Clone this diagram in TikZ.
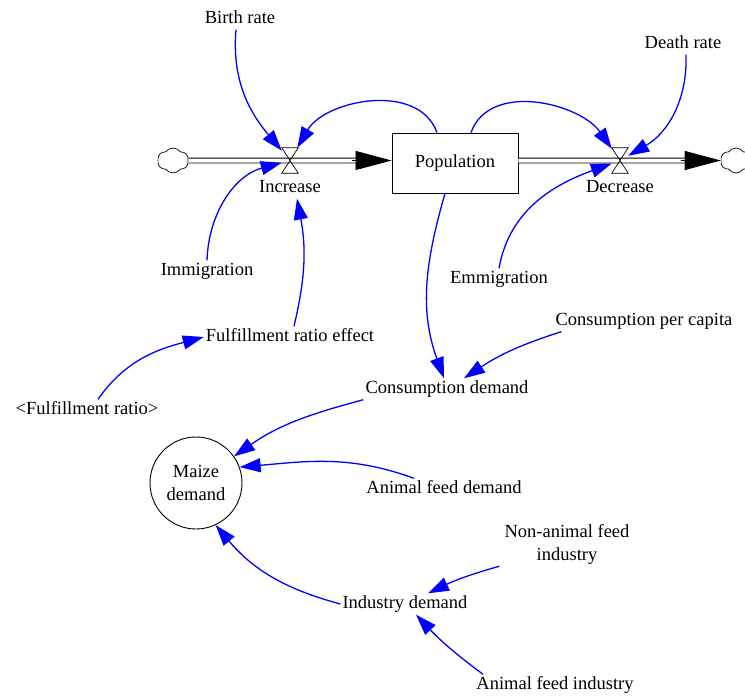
\documentclass[tikz,border=0pt]{standalone}
\usepackage{fontspec}
\setmainfont{Liberation Serif}
\usetikzlibrary{positioning,arrows.meta,shapes.symbols}

\begin{document}
\begin{tikzpicture}[
  x=1pt, y=1pt,
  font=\fontsize{18.5}{23}\selectfont,
  lbl/.style={inner sep=2pt, align=center, text height=13pt, text depth=4pt},
  stock/.style={draw, line width=0.9pt, minimum width=126pt, minimum height=60pt},
  aux/.style={draw, circle, line width=0.9pt, minimum size=92pt, align=center, inner sep=0pt},
  valve/.style={minimum width=16pt, minimum height=25pt, inner sep=0pt},
  cld/.style={draw, cloud, cloud puffs=6, cloud puff arc=110, aspect=1.25, minimum width=31pt, minimum height=25pt, inner sep=0pt, line width=0.7pt},
  pipe/.style={double, double distance=4pt, line width=0.9pt},
  flowtip/.style={line width=0.8pt, -{Triangle[length=36pt,width=19pt]}},
  link/.style={blue, line width=1.3pt, -{Triangle[length=21pt,width=14pt]}},
]
\useasboundingbox (0,0) rectangle (745,-696);

% stock and flows
\node[cld] (srcL) at (173,-160.5) {};
\node[valve] (inc) at (290,-160.5) {};
\node[stock] (pop) at (455,-163) {Population};
\node[valve] (dec) at (620,-160.5) {};
\node[cld] (sinkR) at (736,-160.5) {};
\node[lbl, below=4pt of inc] (incl) {Increase};
\node[lbl, below=4pt of dec] (decl) {Decrease};
\coordinate (popin) at (pop.west |- inc);
\coordinate (popout) at (pop.east |- dec);

\draw[pipe] (srcL.east) -- ([xshift=-30pt]popin);
\draw[flowtip] ([xshift=-40pt]popin) -- (popin);
\draw[pipe] (popout) -- ([xshift=-30pt]sinkR.west);
\draw[flowtip] ([xshift=-40pt]sinkR.west) -- (sinkR.west);
\draw[line width=0.7pt] (inc.north west) -- (inc.north east) -- (inc.south west) -- (inc.south east) -- cycle;
\draw[line width=0.7pt] (dec.north west) -- (dec.north east) -- (dec.south west) -- (dec.south east) -- cycle;

% variables
\node[lbl] (birth) at (240,-19) {Birth rate};
\node[lbl] (death) at (683,-44) {Death rate};
\node[lbl] (immig) at (207,-271) {Immigration};
\node[lbl] (emmig) at (499,-279) {Emmigration};
\node[lbl] (fre) at (290,-337) {Fulfillment ratio effect};
\node[lbl] (fr) at (87,-410) {<Fulfillment ratio>};
\node[lbl] (cpc) at (644,-321) {Consumption per capita};
\node[lbl] (cd) at (447,-389) {Consumption demand};
\node[aux] (maize) at (196,-483) {Maize\\demand};
\node[lbl] (afd) at (444,-489) {Animal feed demand};
\node[lbl, text height=, text depth=] (nafi) at (567,-544) {Non-animal feed\\industry};
\node[lbl] (ind) at (405,-604) {Industry demand};
\node[lbl] (afi) at (555,-685) {Animal feed industry};

% links
\draw[link] ([xshift=-4pt]birth.south) to[out=265, in=130] (inc);
\draw[link] ([xshift=-18pt]pop.north) to[out=110, in=60] (inc);
\draw[link] (immig.north) to[out=88, in=195] (inc);
\draw[link] ([xshift=4pt]fre.north) to[bend right=12] ([xshift=7pt]incl.south);
\draw[link] ([xshift=16pt]pop.north) to[out=70, in=125] (dec);
\draw[link] ([xshift=3pt]death.south) to[out=-88, in=30] (dec);
\draw[link] (emmig.north) to[out=80, in=200] (dec);
\draw[link] ([xshift=-10pt]pop.south) to[out=254, in=110] ([xshift=-3pt]cd.north);
\draw[link] ([xshift=8pt]cpc.south west) to[bend right=8] ([xshift=17pt]cd.north);
\draw[link] ([xshift=11pt]fr.north) to[out=55, in=195] (fre.west);
\draw[link] (cd.south west) to[out=195, in=35] (maize);
\draw[link] ([xshift=-30pt]afd.north) to[out=160, in=5] (maize.20);
\draw[link] (ind.west) to[out=165, in=-50] (maize.-65);
\draw[link] ([xshift=-3pt]nafi.south west) to[bend right=5] ([xshift=23pt]ind.north);
\draw[link] ([xshift=-72pt]afi.north) to[bend left=5] ([xshift=11pt]ind.south);
\end{tikzpicture}
\end{document}
